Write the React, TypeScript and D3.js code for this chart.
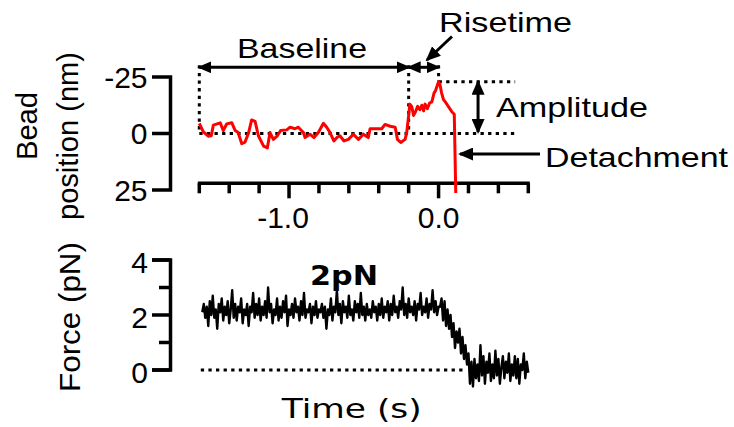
import React from "react";
import * as d3 from "d3";

// ---- Data ----
const beadTime = [
  -1.6, -1.573, -1.54, -1.52, -1.506, -1.46, -1.44, -1.417, -1.383, -1.36, -1.34, -1.316, -1.294, -1.27,
  -1.25, -1.227, -1.205, -1.17, -1.145, -1.127, -1.105, -1.078, -1.056, -1.015, -0.993, -0.96, -0.938,
  -0.904, -0.893, -0.86, -0.833, -0.804, -0.77, -0.748, -0.726, -0.7, -0.68, -0.66, -0.632, -0.603, -0.57,
  -0.536, -0.503, -0.47, -0.458, -0.413, -0.38, -0.358, -0.324, -0.29, -0.275, -0.253, -0.224, -0.213,
  -0.2, -0.192, -0.18, -0.167, -0.155, -0.14, -0.125, -0.112, -0.1, -0.09, -0.075, -0.06, -0.045, -0.03,
  -0.02, -0.01, 0.0, 0.01, 0.02, 0.033, 0.045, 0.06, 0.075, 0.09, 0.105, 0.115,
];
const beadPos = [
  -4.5, -0.7, 1.2, 1.0, -3.7, -4.7, -1.3, -4.2, -4.8, -1.3, -0.4, 4.5, 3.8, -0.4,
  -6, -5.4, 1, 5.6, 6.4, -0.4, 2.6, 1, -1.3, -1.6, -2.8, -2.1, -2.8,
  -0.4, 1.8, 0.3, 1.8, -0.4, -4.5, -2.8, -0.4, 3.3, 1.8, 1, 3.3, 2.6, 0.3,
  2.6, 0.3, 1.8, -2.1, -2.1, -2.1, -4, -3.2, -2.8, 2.6, 4, 2.6, -0.4,
  -8, -13, -12, -8, -9.5, -12, -10.5, -12.5, -10, -13, -11, -13.5, -14, -18,
  -19, -21, -22.9, -21.5, -18, -15, -14, -12.5, -11, -9.5, -8.5, 26.3,
];

const forceStart = -1.58;
const forceStep = 0.01;
const forceValues = [
  // -1.58 .. -1.19
  2.1, 2.4, 1.9, 2.3, 1.6, 2.5, 2.0, 2.7, 1.9, 2.2, 1.5, 2.4, 2.1, 2.6, 1.8, 2.3, 2.0, 2.5, 1.7, 2.2,
  2.9, 1.9, 2.4, 1.8, 2.3, 2.1, 2.6, 1.7, 2.2, 2.0, 2.4, 1.6, 2.3, 2.1, 2.8, 1.9, 2.4, 2.0, 2.6, 1.8,
  // -1.18 .. -0.79
  2.3, 2.0, 2.5, 1.9, 3.0, 2.1, 2.4, 1.7, 2.2, 2.0, 2.6, 1.8, 2.3, 1.9, 2.5, 2.1, 2.7, 1.6, 2.2, 2.0,
  2.4, 1.9, 2.6, 2.1, 2.3, 1.8, 2.5, 2.0, 2.8, 1.9, 2.2, 2.1, 2.4, 1.7, 2.3, 2.0, 2.5, 1.9, 2.2, 2.1,
  // -0.78 .. -0.39
  2.4, 1.9, 2.3, 1.5, 2.2, 2.0, 2.6, 1.8, 2.3, 2.1, 2.9, 2.0, 2.4, 1.7, 2.5, 2.1, 2.3, 1.9, 2.7, 2.0,
  2.2, 1.8, 2.5, 2.1, 2.4, 1.9, 2.8, 2.0, 2.3, 1.8, 2.4, 2.0, 2.2, 1.9, 2.5, 2.1, 2.3, 1.8, 2.4, 2.0,
  // -0.38 .. 0.00
  2.6, 1.9, 2.3, 2.1, 2.5, 1.8, 2.4, 2.0, 2.7, 2.1, 2.3, 1.9, 2.5, 2.2, 3.0, 2.0, 2.4, 1.9, 2.6, 2.1,
  2.3, 2.0, 2.5, 1.8, 2.4, 2.2, 2.8, 2.0, 2.3, 2.1, 2.6, 1.9, 2.4, 2.2, 2.9, 2.1, 2.5, 2.0, 2.3,
  // 0.01 .. 0.25
  2.3, 2.6, 1.8, 2.5, 1.6, 2.2, 1.5, 2.0, 1.2, 1.7, 0.8, 1.4, 1.0, 1.5, 0.6, 1.2, 0.4, 0.9, 0.2, 0.6,
  -0.5, 0.3, -0.6, 0.4, -0.3,
  // 0.26 .. 0.60
  0.2, -0.4, 0.9, -0.2, 0.5, -0.5, 0.3, -0.1, 0.6, -0.4, 0.2, -0.3, 0.7, -0.2, 0.4, -0.5, 0.1, 0.5,
  -0.3, 0.3, -0.1, 0.6, -0.4, 0.2, -0.2, 0.5, -0.3, 0.4, -0.5, 0.2, 0.0, 0.6, -0.3, 0.3, -0.1,
];

const timeTicks = [-1.6, -1.4, -1.2, -1.0, -0.8, -0.6, -0.4, -0.2, 0.0, 0.2, 0.4, 0.6];
const timeMajor = [-1.0, 0.0];
const timeLabels = ["-1.0", "0.0"];
const beadTicks = [-25, 0, 25];
const beadLabels = ["-25", "0", "25"];
const forceTicks = [0, 1, 2, 3, 4];
const forceMajor = [0, 2, 4];
const forceLabels = ["0", "2", "4"];

const baselineStart = -1.6;
const baselineEnd = -0.2;
const riseEnd = 0.0;
const ampX = 0.264;
const guideEnd = 0.512;

const SANS = "'Liberation Sans', Arial, sans-serif";
const DEJA = "'DejaVu Sans', Verdana, sans-serif";

function T(props: any) {
  const { children, len, size = 28, family = SANS, weight = "normal", anchor = "middle", ...rest } = props;
  return (
    <text
      fontFamily={family}
      fontSize={size}
      fontWeight={weight}
      textAnchor={anchor}
      fill="#000"
      {...(len ? { textLength: len, lengthAdjust: "spacingAndGlyphs" } : {})}
      {...rest}
    >
      {children}
    </text>
  );
}

export default function App() {
  const x = d3.scaleLinear().domain([-1.6, 0.6]).range([199.3, 528.3]);
  const yB = d3.scaleLinear().domain([-25, 25]).range([77, 190]);
  const yF = d3.scaleLinear().domain([0, 4]).range([370, 260]);

  const beadLine = d3
    .line<number>()
    .x((_, i) => x(beadTime[i]))
    .y((d) => yB(d))(beadPos) as string;

  const forceLine = d3
    .line<number>()
    .x((_, i) => x(forceStart + i * forceStep))
    .y((d) => yF(d))(forceValues) as string;

  const peak = d3.min(beadPos.slice(0, -1)) as number;
  const axisW = 3.5;
  const yAxisX = 170.5;
  const xAxisY = 183.3;
  const arrowY = 67.3;

  return (
    <svg width={734} height={427} style={{ position: "absolute", left: 0, top: 0, background: "#fff" }}>
      <defs>
        <marker id="ah" viewBox="0 0 14 12" refX={12} refY={6} markerWidth={14} markerHeight={12}
          markerUnits="userSpaceOnUse" orient="auto-start-reverse">
          <path d="M0,0 L14,6 L0,12 Z" fill="#000" />
        </marker>
        <marker id="ah2" viewBox="0 0 15 13" refX={13} refY={6.5} markerWidth={15} markerHeight={13}
          markerUnits="userSpaceOnUse" orient="auto-start-reverse">
          <path d="M0,0 L15,6.5 L0,13 Z" fill="#000" />
        </marker>
      </defs>

      {/* ===== Top panel ===== */}
      <path
        d={`M152,${yB(-25)}H${yAxisX}V${yB(25)}H152`}
        fill="none" stroke="#000" strokeWidth={axisW}
      />
      <line x1={152} x2={yAxisX} y1={yB(0)} y2={yB(0)} stroke="#000" strokeWidth={axisW} />
      {beadTicks.map((t, i) => (
        <T key={t} x={147.5} y={yB(t)} size={30} anchor="end" dominantBaseline="central">{beadLabels[i]}</T>
      ))}
      <line x1={x(-1.6) - 1.5} x2={x(0.6) + 1.5} y1={xAxisY} y2={xAxisY} stroke="#000" strokeWidth={axisW} />
      {timeTicks.map((t) => (
        <line key={t} x1={x(t)} x2={x(t)} y1={xAxisY} y2={xAxisY + (timeMajor.includes(t) ? 15 : 10)}
          stroke="#000" strokeWidth={axisW} />
      ))}
      {timeMajor.map((t, i) => (
        <T key={t} x={x(t) + (timeLabels[i].startsWith("-") ? -6 : 0)} y={228} size={30}>{timeLabels[i]}</T>
      ))}

      <g stroke="#000" strokeWidth={3} strokeDasharray="3.3,4.3" fill="none">
        <line x1={x(baselineStart)} x2={x(guideEnd)} y1={yB(0)} y2={yB(0)} />
        <line x1={x(riseEnd)} x2={x(guideEnd)} y1={yB(peak)} y2={yB(peak)} />
        <line x1={x(baselineStart)} x2={x(baselineStart)} y1={arrowY - 2} y2={yB(0)} />
        <line x1={x(baselineEnd)} x2={x(baselineEnd)} y1={arrowY - 2} y2={yB(-1)} />
        <line x1={x(riseEnd)} x2={x(riseEnd)} y1={arrowY - 2} y2={yB(peak)} />
      </g>

      <path d={beadLine} fill="none" stroke="#ff0000" strokeWidth={3} strokeLinejoin="round" />

      <g stroke="#000" strokeWidth={3}>
        <line x1={x(baselineStart)} x2={x(baselineEnd)} y1={arrowY} y2={arrowY}
          markerStart="url(#ah)" markerEnd="url(#ah)" />
        <line x1={x(baselineEnd)} x2={x(riseEnd)} y1={arrowY} y2={arrowY}
          markerStart="url(#ah)" markerEnd="url(#ah)" />
        <line x1={x(ampX)} x2={x(ampX)} y1={yB(peak)} y2={yB(0) - 1.5}
          markerStart="url(#ah2)" markerEnd="url(#ah2)" />
        <line x1={452} y1={36.5} x2={427} y2={60} markerEnd="url(#ah2)" />
        <line x1={540} y1={154} x2={460} y2={154} markerEnd="url(#ah2)" />
      </g>

      <T x={302} y={58} len={130}>Baseline</T>
      <T x={505.5} y={32} len={133}>Risetime</T>
      <T x={496} y={117} len={152} anchor="start">Amplitude</T>
      <T x={545} y={167} len={183} anchor="start">Detachment</T>

      <T transform="translate(37,126) rotate(-90)" size={30} len={68}>Bead</T>
      <T transform="translate(78,136) rotate(-90)" size={30} len={168}>position (nm)</T>

      {/* ===== Bottom panel ===== */}
      <path d={`M152,${yF(4)}H${yAxisX}V${yF(0)}H152`} fill="none" stroke="#000" strokeWidth={axisW} />
      {forceTicks.map((t) => (
        <line key={t} x1={forceMajor.includes(t) ? 152 : 159} x2={yAxisX} y1={yF(t)} y2={yF(t)}
          stroke="#000" strokeWidth={axisW} />
      ))}
      {forceMajor.map((t, i) => (
        <T key={t} x={148} y={yF(t) + 2} size={30} anchor="end" dominantBaseline="central">{forceLabels[i]}</T>
      ))}

      <line x1={x(-1.59)} x2={x(0.18)} y1={yF(0)} y2={yF(0)} stroke="#000" strokeWidth={3}
        strokeDasharray="3.3,4.3" />

      <path d={forceLine} fill="none" stroke="#000" strokeWidth={2.4} strokeLinejoin="round" />

      <T x={344} y={285} size={27} family={DEJA} weight="bold" len={68}>2pN</T>
      <T transform="translate(80,317) rotate(-90)" size={30} len={150}>Force (pN)</T>
      <T x={351.7} y={418} size={27} family={DEJA} len={140}>Time (s)</T>
    </svg>
  );
}
